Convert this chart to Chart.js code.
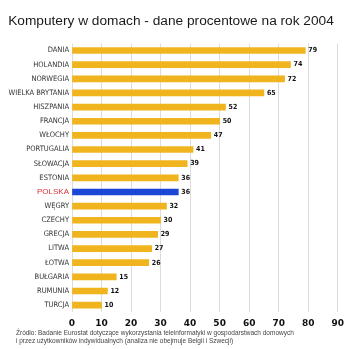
<!DOCTYPE html>
<html>
<head>
<meta charset="utf-8">
<script src="https://cdn.jsdelivr.net/npm/chart.js@4/dist/chart.umd.min.js"></script>
<style>
  html, body { margin: 0; padding: 0; background: #fff; }
  #wrap { position: relative; width: 350px; height: 349px; }
  #zrodlo {
    position: absolute; left: 16px; top: 329px;
    font: 6.5px/8px "Liberation Sans", Arial, sans-serif; color: #444;
    white-space: nowrap;
  }
</style>
</head>
<body>
<div id="wrap">
  <canvas id="komputeryChart" width="350" height="349"></canvas>
  <div id="zrodlo"></div>
</div>
<script>
// dane z wykresu
const kraje = ['DANIA', 'HOLANDIA', 'NORWEGIA', 'WIELKA BRYTANIA', 'HISZPANIA', 'FRANCJA', 'WŁOCHY',
  'PORTUGALIA', 'SŁOWACJA', 'ESTONIA', 'POLSKA', 'WĘGRY', 'CZECHY', 'GRECJA', 'LITWA', 'ŁOTWA',
  'BUŁGARIA', 'RUMUNIA', 'TURCJA'];
const procenty = [79, 74, 72, 65, 52, 50, 47, 41, 39, 36, 36, 32, 30, 29, 27, 26, 15, 12, 10];
const osX = [0, 10, 20, 30, 40, 50, 60, 70, 80, 90];
const wyrozniony = 'POLSKA';

const tytul = 'Komputery w domach - dane procentowe na rok 2004';
const zrodlo = [
  'Źródło: Badanie Eurostat dotyczące wykorzystania teleinformatyki w gospodarstwach domowych',
  'i przez użytkowników indywidualnych (analiza nie obejmuje Belgii i Szwecji)'
];

document.getElementById('zrodlo').innerHTML = zrodlo.join('<br>');

const ZLOTY = '#f0b41e';
const NIEBIESKI = '#1c46d6';

// etykiety z wartościami na końcu słupków
const etykietyWartosci = {
  id: 'etykietyWartosci',
  afterDatasetsDraw(chart) {
    const ctx = chart.ctx;
    const meta = chart.getDatasetMeta(0);
    ctx.save();
    ctx.font = 'bold 7px "DejaVu Sans Condensed"';
    ctx.fillStyle = '#111';
    ctx.textBaseline = 'middle';
    meta.data.forEach((bar, i) => {
      ctx.fillText(procenty[i], bar.x + 3, bar.y);
    });
    ctx.restore();
  }
};

new Chart(document.getElementById('komputeryChart'), {
  type: 'bar',
  data: {
    labels: kraje,
    datasets: [{
      data: procenty,
      backgroundColor: kraje.map(k => k === wyrozniony ? NIEBIESKI : ZLOTY),
      barThickness: 6
    }]
  },
  plugins: [etykietyWartosci],
  options: {
    indexAxis: 'y',
    responsive: false,
    animation: false,
    layout: { padding: { left: 0, right: 8, top: 0, bottom: 14 } },
    plugins: {
      legend: { display: false },
      tooltip: { enabled: false },
      title: {
        display: true,
        text: tytul,
        color: '#1a1a1a',
        font: { family: '"Liberation Sans", Arial', size: 13.7, weight: 'normal' },
        padding: { top: 13, bottom: 14 }
      }
    },
    scales: {
      x: {
        min: 0,
        max: 90,
        afterBuildTicks: s => { s.ticks = osX.map(v => ({ value: v })); },
        grid: { color: '#dcdcdc', drawTicks: false },
        border: { display: false },
        ticks: {
          color: '#111',
          padding: 6,
          font: { family: '"DejaVu Sans"', size: 9, weight: 'bold' }
        }
      },
      y: {
        afterFit: s => { s.width = 72; },
        grid: { display: false, drawTicks: false },
        border: { display: false },
        ticks: {
          padding: 3,
          autoSkip: false,
          color: c => kraje[c.index] === wyrozniony ? '#d9333a' : '#333',
          font: c => kraje[c.index] === wyrozniony
            ? { family: '"Liberation Sans", Arial', size: 8 }
            : { family: '"DejaVu Sans Condensed"', size: 7.5 }
        }
      }
    }
  }
});
</script>
</body>
</html>
